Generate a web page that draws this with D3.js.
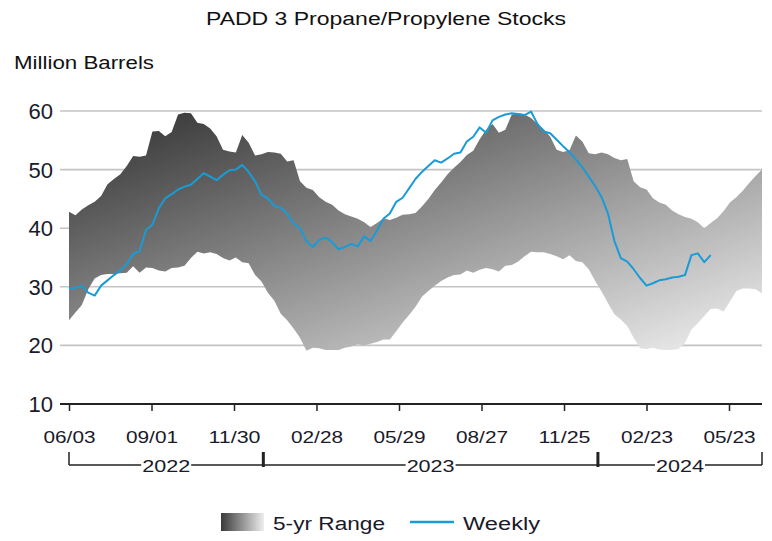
<!DOCTYPE html>
<html>
<head>
<meta charset="utf-8">
<script src="https://cdn.jsdelivr.net/npm/d3@7"></script>
<style>
  html, body { margin: 0; padding: 0; background: #fff; }
  svg { display: block; font-family: "Liberation Sans", Arial, sans-serif; }
</style>
</head>
<body>
<svg id="chart" width="772" height="541"></svg>
<script>
// Weekly series start (Fridays), one entry per week
const firstWeek = "2022-06-03";
const weekCount = 109;

// 5-year range, upper bound (million barrels)
const rangeHigh = [
  42.8, 42.2, 43.2, 43.9, 44.5, 45.5, 47.5, 48.4, 49.2, 50.6,
  52.3, 52.2, 52.4, 56.5, 56.6, 55.7, 56.4, 59.4, 59.7, 59.6,
  58.0, 57.8, 57.0, 55.7, 53.4, 53.1, 52.9, 55.9, 54.6, 52.4,
  52.6, 53.0, 52.9, 52.7, 51.4, 51.6, 48.0, 46.9, 46.5, 45.3,
  44.5, 44.0, 43.0, 42.4, 42.0, 41.6, 41.0, 40.2, 40.9, 41.7,
  41.4, 41.8, 42.3, 42.4, 42.6, 43.7, 45.0, 46.5, 47.8, 49.2,
  50.3, 51.3, 52.5, 53.2, 55.2, 56.8, 57.8, 56.3, 56.8, 59.4,
  59.6, 59.4, 58.8, 57.8, 56.9, 55.6, 53.4, 53.0, 53.3, 55.8,
  54.8, 52.8, 52.6, 52.9, 52.6, 52.0, 51.6, 51.8, 48.0, 47.0,
  46.6, 45.1, 44.4, 44.0, 43.0, 42.4, 41.9, 41.6, 41.0, 40.0,
  40.9, 41.7, 42.9, 44.4, 45.3, 46.4, 47.7, 48.9, 50.0
];

// 5-year range, lower bound (million barrels)
const rangeLow = [
  24.3, 25.6, 26.9, 29.6, 31.4, 32.0, 32.2, 32.2, 32.3, 32.4,
  33.5, 32.4, 33.3, 33.2, 32.8, 32.6, 33.2, 33.3, 33.6, 34.9,
  36.0, 35.7, 35.9, 35.6, 34.9, 34.5, 35.0, 34.2, 34.0, 32.0,
  30.9, 29.0, 27.6, 25.4, 24.3, 22.9, 21.3, 19.1, 19.6, 19.5,
  19.2, 19.2, 19.2, 19.6, 19.8, 20.2, 20.0, 20.3, 20.6, 21.0,
  21.0, 22.4, 23.9, 25.2, 26.6, 28.3, 29.3, 30.2, 31.0, 31.6,
  32.0, 32.1, 32.8, 32.4, 32.9, 33.2, 33.0, 32.6, 33.6, 33.7,
  34.3, 35.2, 36.0, 35.9, 35.9, 35.6, 35.2, 34.7, 35.4, 34.4,
  34.2, 33.0, 31.0, 29.2, 27.2, 25.3, 24.4, 23.3, 21.3, 19.5,
  19.4, 19.6, 19.3, 19.2, 19.2, 19.4, 20.4, 22.7, 23.8, 25.0,
  26.2, 26.3, 25.8, 27.5, 29.3, 29.7, 29.7, 29.6, 28.9
];

// Weekly stocks (million barrels)
const weekly = [
  29.7, 29.8, 30.2, 29.0, 28.5, 30.2, 31.1, 32.0, 32.8, 33.9,
  35.6, 36.1, 39.7, 40.6, 43.4, 45.1, 45.8, 46.6, 47.1, 47.4,
  48.4, 49.4, 48.8, 48.2, 49.1, 49.9, 50.0, 50.8, 49.6, 48.0,
  45.7, 45.1, 43.8, 43.5, 42.5, 40.8, 40.0, 37.8, 36.8, 38.0,
  38.4, 37.6, 36.4, 36.8, 37.3, 36.9, 38.6, 37.8, 39.6, 41.6,
  42.5, 44.5, 45.2, 46.8, 48.4, 49.6, 50.6, 51.6, 51.2, 51.9,
  52.7, 52.9, 54.8, 55.6, 57.2, 56.3, 58.4, 59.0, 59.4, 59.6,
  59.5, 59.3, 59.9, 57.8, 56.5, 56.2, 55.1, 54.0, 53.0, 51.7,
  50.4, 48.8, 47.2, 45.3, 42.5, 37.8, 34.9, 34.3, 33.0, 31.5,
  30.2, 30.6, 31.1, 31.3, 31.6, 31.7, 32.0, 35.4, 35.7, 34.2,
  35.4
];

// Axis labelling
const yTicks = [10, 20, 30, 40, 50, 60];
const xTickDates = ["2022-06-03", "2022-09-01", "2022-11-30", "2023-02-28", "2023-05-29",
                    "2023-08-27", "2023-11-25", "2024-02-23", "2024-05-23"];
const yearLabels = ["2022", "2023", "2024"];
const yearBounds = ["2022-06-03", "2023-01-01", "2024-01-01", "2024-06-28"];

const parse = d3.utcParse("%Y-%m-%d");
const start = parse(firstWeek);
const weeks = d3.range(weekCount).map(i => d3.utcDay.offset(start, 7 * i));

const svg = d3.select("#chart");
const plotLeft = 69, plotRight = 762, plotTop = 111, plotBottom = 404;

const x = d3.scaleUtc().domain([start, weeks[weeks.length - 1]]).range([plotLeft, plotRight]);
const y = d3.scaleLinear().domain([10, 60]).range([plotBottom, plotTop]);

// Wide, slightly stretched lettering
function stretch(sel, width) {
  return sel.attr("textLength", width).attr("lengthAdjust", "spacingAndGlyphs");
}

// Gradients
const defs = svg.append("defs");
const bandGrad = defs.append("linearGradient").attr("id", "bandGrad")
  .attr("x1", 0).attr("y1", 0).attr("x2", 1).attr("y2", 1);
bandGrad.append("stop").attr("offset", 0).attr("stop-color", "#2e2e2e");
bandGrad.append("stop").attr("offset", 1).attr("stop-color", "#f2f2f2");
const keyGrad = defs.append("linearGradient").attr("id", "keyGrad")
  .attr("x1", 0).attr("y1", 0).attr("x2", 1).attr("y2", 0);
keyGrad.append("stop").attr("offset", 0).attr("stop-color", "#3a3a3a");
keyGrad.append("stop").attr("offset", 1).attr("stop-color", "#eeeeee");

// Title and unit
stretch(svg.append("text").attr("x", 386).attr("y", 25).attr("text-anchor", "middle")
  .attr("font-size", 18).attr("fill", "#111").text("PADD 3 Propane/Propylene Stocks"), 360);
stretch(svg.append("text").attr("x", 14).attr("y", 69)
  .attr("font-size", 17.5).attr("fill", "#111").text("Million Barrels"), 140);

// Horizontal gridlines
svg.append("g").selectAll("line").data(yTicks.filter(d => d !== 10)).join("line")
  .attr("x1", 60).attr("x2", plotRight).attr("y1", d => y(d)).attr("y2", d => y(d))
  .attr("stroke", "#c4c4c4").attr("stroke-width", 1.6);

// Y tick labels
svg.append("g").selectAll("text").data(yTicks).join("text")
  .attr("x", 53).attr("y", d => y(d)).attr("dy", "0.36em").attr("text-anchor", "end")
  .attr("font-size", 22).attr("fill", "#1a1a2a").text(d => d);

// 5-yr range band
const area = d3.area()
  .x((d, i) => x(weeks[i]))
  .y0((d, i) => y(rangeLow[i]))
  .y1(d => y(d));
svg.append("path").datum(rangeHigh).attr("d", area).attr("fill", "url(#bandGrad)");

// Weekly line
const line = d3.line().x((d, i) => x(weeks[i])).y(d => y(d));
svg.append("path").datum(weekly).attr("d", line)
  .attr("fill", "none").attr("stroke", "#1a9bd6").attr("stroke-width", 2)
  .attr("stroke-linejoin", "round");

// Bottom axis
const xAxis = d3.axisBottom(x).tickValues(xTickDates.map(parse))
  .tickFormat(d3.utcFormat("%m/%d")).tickSize(7).tickSizeOuter(0);
const ax = svg.append("g").attr("transform", `translate(0,${plotBottom})`).call(xAxis);
ax.select(".domain").remove();
ax.selectAll(".tick line").attr("stroke", "#222").attr("stroke-width", 1.5);
stretch(ax.selectAll(".tick text").attr("font-size", 17).attr("fill", "#1a1a2a")
  .attr("font-family", "Liberation Sans, Arial, sans-serif").attr("y", 39).attr("dy", 0), 52);
svg.append("line").attr("x1", 60).attr("x2", plotRight).attr("y1", plotBottom).attr("y2", plotBottom)
  .attr("stroke", "#222").attr("stroke-width", 2);

// Year brackets
const yearLineY = 465, yearTickTop = 452;
const bx = yearBounds.map(s => x(parse(s)));
const yg = svg.append("g");
yearLabels.forEach((lab, i) => {
  const cx = (bx[i] + bx[i + 1]) / 2;
  const w = 48;
  stretch(yg.append("text").attr("x", cx).attr("y", yearLineY + 7).attr("text-anchor", "middle")
    .attr("font-size", 17).attr("fill", "#1a1a2a").text(lab), w);
  yg.append("line").attr("x1", bx[i]).attr("x2", cx - w / 2 - 1)
    .attr("y1", yearLineY).attr("y2", yearLineY).attr("stroke", "#222").attr("stroke-width", 1.5);
  yg.append("line").attr("x1", cx + w / 2 + 1).attr("x2", bx[i + 1])
    .attr("y1", yearLineY).attr("y2", yearLineY).attr("stroke", "#222").attr("stroke-width", 1.5);
});
bx.forEach((px, i) => {
  const inner = i > 0 && i < bx.length - 1;
  yg.append("line").attr("x1", px).attr("x2", px)
    .attr("y1", yearTickTop).attr("y2", inner ? yearLineY + 2 : yearLineY)
    .attr("stroke", "#222").attr("stroke-width", inner ? 3 : 1.5);
});

// Legend
const lg = svg.append("g");
lg.append("rect").attr("x", 221).attr("y", 513).attr("width", 43).attr("height", 18)
  .attr("fill", "url(#keyGrad)");
stretch(lg.append("text").attr("x", 273).attr("y", 530).attr("font-size", 18).attr("fill", "#1a1a2a")
  .text("5-yr Range"), 112);
lg.append("line").attr("x1", 410).attr("x2", 454).attr("y1", 522).attr("y2", 522)
  .attr("stroke", "#1a9bd6").attr("stroke-width", 2.5);
stretch(lg.append("text").attr("x", 463).attr("y", 530).attr("font-size", 18).attr("fill", "#1a1a2a")
  .text("Weekly"), 77);
</script>
</body>
</html>
